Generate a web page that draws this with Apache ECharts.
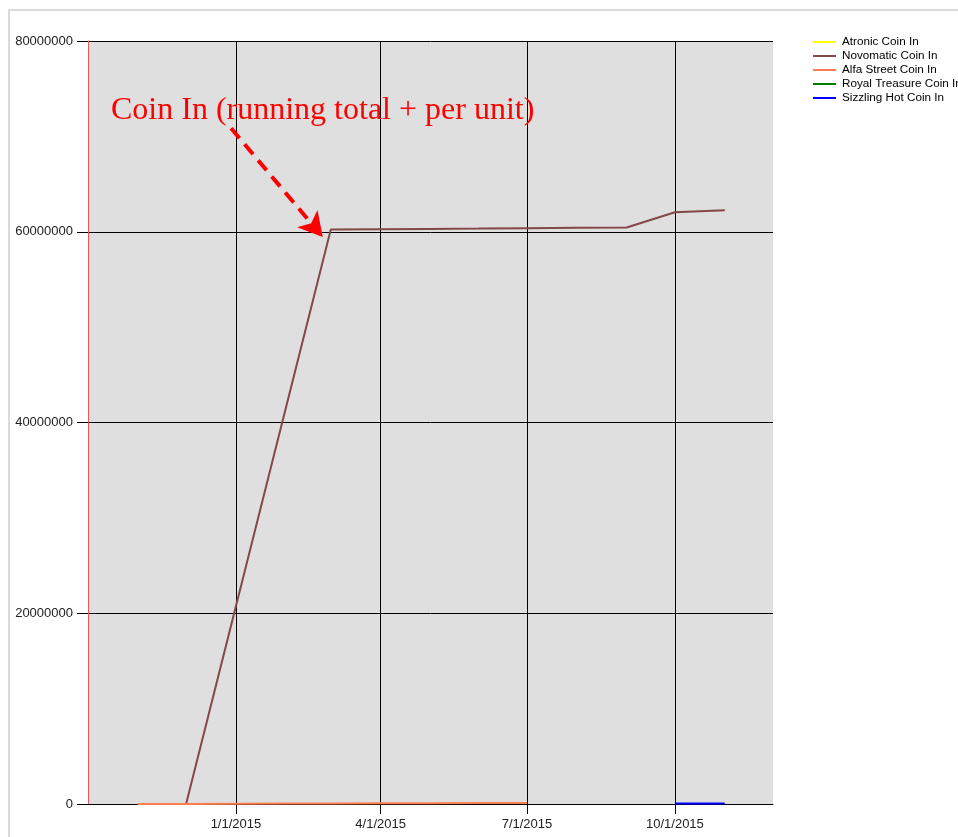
<!DOCTYPE html>
<html>
<head>
<meta charset="utf-8">
<script src="https://cdn.jsdelivr.net/npm/echarts@6/dist/echarts.min.js"></script>
<style>
html,body{margin:0;padding:0;background:#fff;}
#frame{position:absolute;left:8px;top:9px;width:1000px;height:900px;border:2px solid #dadada;box-sizing:border-box;pointer-events:none;}
#chart{position:absolute;left:0;top:0;width:958px;height:837px;}
</style>
</head>
<body>
<div id="frame"></div>
<div id="chart"></div>
<script>
// ---- data ----
const seriesNames = ['Atronic Coin In', 'Novomatic Coin In', 'Alfa Street Coin In', 'Royal Treasure Coin In', 'Sizzling Hot Coin In'];
const seriesColors = ['#ffff00', '#834848', '#ff7f50', '#008000', '#0000ff'];

const atronicDates = [];
const atronicValues = [];

const novomaticDates = ['2014-11-01', '2014-12-01', '2015-03-01', '2015-04-01', '2015-05-01', '2015-06-01', '2015-07-01', '2015-08-01', '2015-09-01', '2015-10-01', '2015-11-01'];
const novomaticValues = [0, 0, 60240000, 60270000, 60300000, 60330000, 60380000, 60420000, 60450000, 62040000, 62250000];

const alfaDates = ['2014-11-01', '2014-12-01', '2015-01-01', '2015-02-01', '2015-03-01', '2015-04-01', '2015-05-01', '2015-06-01', '2015-07-01'];
const alfaValues = [0, 10000, 25000, 40000, 55000, 70000, 85000, 100000, 115000];

const royalDates = [];
const royalValues = [];

const sizzlingDates = ['2015-10-01', '2015-11-01'];
const sizzlingValues = [50000, 60000];

const xTickLabels = ['2015-01-01', '2015-04-01', '2015-07-01', '2015-10-01'];
const xMin = '2014-10-01';
const xMax = '2015-12-01';
const yTicks = [0, 20000000, 40000000, 60000000, 80000000];

const annotationText = 'Coin In (running total + per unit)';
const arrowFrom = ['2014-12-29', 70850000];
const arrowTo = ['2015-02-24', 59450000];

// ---- helpers ----
function ts(s) { const p = s.split('-').map(Number); return new Date(p[0], p[1] - 1, p[2]).getTime(); }
function pairs(d, v) { return d.map((x, i) => [ts(x), v[i]]); }
function fmt(v) { const d = new Date(v); return (d.getMonth() + 1) + '/' + d.getDate() + '/' + d.getFullYear(); }

const allData = [
  pairs(atronicDates, atronicValues),
  pairs(novomaticDates, novomaticValues),
  pairs(alfaDates, alfaValues),
  pairs(royalDates, royalValues),
  pairs(sizzlingDates, sizzlingValues)
];

const series = seriesNames.map((n, i) => ({
  name: n,
  type: 'line',
  data: allData[i],
  symbol: 'none',
  showSymbol: false,
  color: seriesColors[i],
  lineStyle: { width: 2, color: seriesColors[i] },
  z: 3
}));

series[1].markLine = {
  silent: true,
  symbol: ['none', 'arrow'],
  symbolSize: [20, 24],
  label: { show: false },
  lineStyle: { color: '#ff0000', width: 4, type: [13, 8] },
  data: [[
    { coord: [ts(arrowFrom[0]), arrowFrom[1]] },
    { coord: [ts(arrowTo[0]), arrowTo[1]] }
  ]],
  z: 10
};

const chart = echarts.init(document.getElementById('chart'), null, { renderer: 'canvas' });
chart.setOption({
  animation: false,
  backgroundColor: 'transparent',
  title: {
    text: annotationText,
    left: 111,
    top: 95,
    padding: 0,
    textStyle: { fontFamily: 'Liberation Serif', fontWeight: 'normal', fontSize: 32, color: '#ff0000' }
  },
  legend: {
    orient: 'vertical',
    left: 813,
    top: 35,
    icon: 'rect',
    itemWidth: 23,
    itemHeight: 2,
    itemGap: 0,
    padding: 0,
    textStyle: { fontFamily: 'Liberation Sans', fontSize: 11.7, color: '#000', lineHeight: 14, padding: [0, 0, 0, 1] },
    data: seriesNames
  },
  grid: {
    left: 88, right: 185, top: 41, bottom: 33,
    show: true, backgroundColor: '#dfdfdf', borderWidth: 0,
    containLabel: false
  },
  xAxis: {
    type: 'value',
    min: ts(xMin),
    max: ts(xMax),
    scale: true,
    axisLine: { show: true, onZero: false, lineStyle: { color: '#000', width: 1 } },
    axisTick: { show: true, length: 10, lineStyle: { color: '#000' }, customValues: xTickLabels.map(ts) },
    axisLabel: {
      customValues: xTickLabels.map(ts),
      formatter: fmt,
      fontFamily: 'Liberation Sans', fontSize: 13, color: '#222', margin: 14
    },
    splitLine: { show: true, lineStyle: { color: '#000', width: 1 } }
  },
  yAxis: {
    type: 'value',
    min: yTicks[0],
    max: yTicks[yTicks.length - 1],
    interval: yTicks[1] - yTicks[0],
    axisLine: { show: true, lineStyle: { color: '#f05555', width: 1 } },
    axisTick: { show: true, length: 11, lineStyle: { color: '#000' } },
    axisLabel: { fontFamily: 'Liberation Sans', fontSize: 13, color: '#222', margin: 15, formatter: v => String(v) },
    splitLine: { show: true, lineStyle: { color: '#000', width: 1 } }
  },
  series: series
});
</script>
</body>
</html>
